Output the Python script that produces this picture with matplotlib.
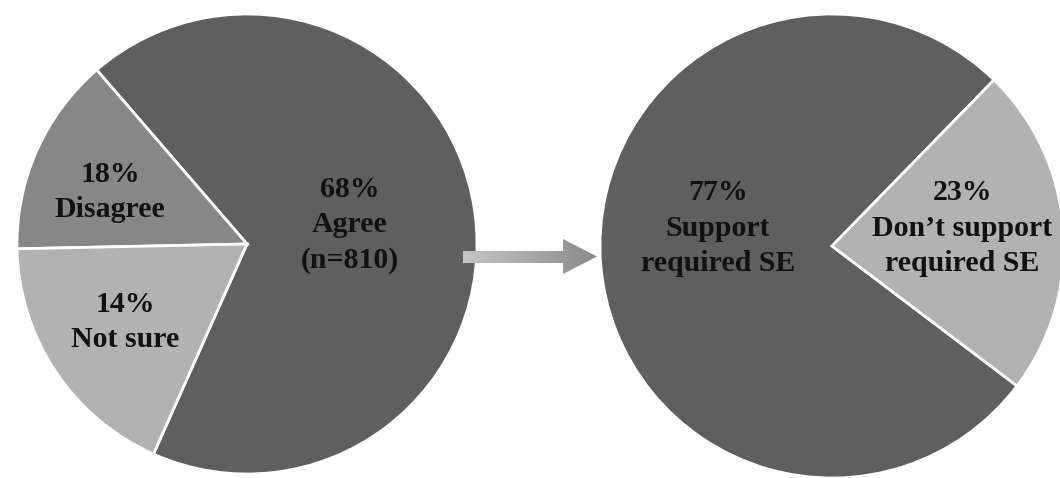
import numpy as np
import matplotlib
matplotlib.use('Agg')
import matplotlib.pyplot as plt
from matplotlib.patches import Polygon

# Left pie: wedge sizes as drawn, with their labels
left_sizes = [68, 14, 18]
left_labels = ['68%\nAgree\n(n=810)', '18%\nDisagree', '14%\nNot sure']
left_colors = ['#5f5f5f', '#878787', '#b2b2b2']

# Right pie
right_sizes = [77, 23]
right_labels = ['77%\nSupport\nrequired SE', '23%\nDon\u2019t support\nrequired SE']
right_colors = ['#5f5f5f', '#b2b2b2']

W, H = 1060, 478
fig = plt.figure(figsize=(W / 100, H / 100), dpi=100)
ax = fig.add_axes([0, 0, 1, 1])

font = dict(family='Liberation Serif', fontweight='bold', fontsize=21.5,
            ha='center', va='center', linespacing=1.4, color='#111111')

# left pie
ax.pie(left_sizes, colors=left_colors, startangle=246, counterclock=True,
       center=(247, H - 244), radius=230, frame=True,
       wedgeprops=dict(edgecolor='white', linewidth=2))
ax.text(350, H - 225, left_labels[0], **font)
ax.text(110, H - 192, left_labels[1], **font)
ax.text(125, H - 322, left_labels[2], **font)

# right pie
ax.pie(right_sizes, colors=right_colors, startangle=45.7, counterclock=True,
       center=(832, H - 246), radius=232, frame=True,
       wedgeprops=dict(edgecolor='white', linewidth=2))
ax.text(718, H - 228, right_labels[0], **font)
ax.text(962, H - 228, right_labels[1], **font)

# gradient arrow between the pies
arrow_pts = [(463, H - 251), (563, H - 251), (563, H - 239), (597, H - 256.5),
             (563, H - 274), (563, H - 263), (463, H - 263)]
arrow = Polygon(arrow_pts, closed=True, facecolor='none', edgecolor='none')
ax.add_patch(arrow)
grad = np.linspace(0, 1, 256).reshape(1, -1)
cmap = matplotlib.colors.LinearSegmentedColormap.from_list('g', ['#c6c6c6', '#8a8a8a'])
im = ax.imshow(grad, extent=(463, 597, H - 274, H - 239), cmap=cmap,
               aspect='auto', zorder=3)
im.set_clip_path(arrow)

ax.set_xlim(0, W)
ax.set_ylim(0, H)
ax.set_aspect('equal')
ax.axis('off')

fig.savefig('out.png', dpi=100)
